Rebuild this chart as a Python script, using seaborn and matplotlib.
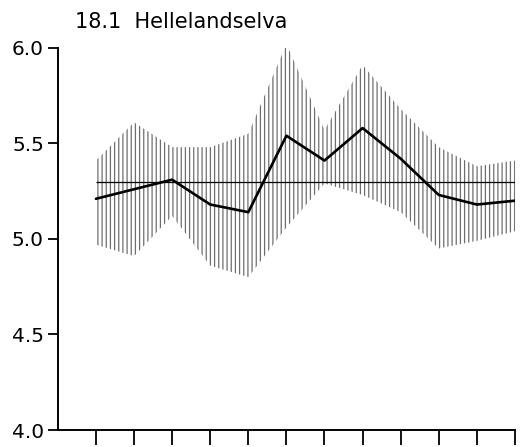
import numpy as np
import pandas as pd
import matplotlib
matplotlib.use("Agg")
import matplotlib.pyplot as plt
import seaborn as sns

# --- Datos ---
months = [1, 2, 3, 4, 5, 6, 7, 8, 9, 10, 11, 12]
values = [5.21, 5.26, 5.31, 5.18, 5.14, 5.54, 5.41, 5.58, 5.42, 5.23, 5.18, 5.20]
upper = [5.41, 5.61, 5.48, 5.48, 5.55, 6.02, 5.57, 5.91, 5.68, 5.48, 5.38, 5.41]
lower = [4.97, 4.91, 5.12, 4.86, 4.80, 5.06, 5.29, 5.23, 5.14, 4.95, 4.99, 5.04]
mean_value = 5.30
title = "18.1  Hellelandselva"
y_ticks = [4.0, 4.5, 5.0, 5.5, 6.0]

df = pd.DataFrame({"month": months, "value": values})

sns.set_style("ticks", {"axes.edgecolor": "black", "text.color": "black",
                        "xtick.color": "black", "ytick.color": "black"})
plt.rcParams["font.family"] = ["DejaVu Sans"]
plt.rcParams["hatch.linewidth"] = 0.9

fig = plt.figure(figsize=(5.26, 4.47), dpi=100)
ax = fig.add_axes([0.110, 0.038, 0.869, 0.855])

# banda rayada (envolvente)
ax.fill_between(months, lower, upper, facecolor="none", edgecolor="#6e6e6e",
                hatch="||||", linewidth=0)

# media
ax.hlines(mean_value, months[0], months[-1], color="black", linewidth=0.9)

# serie
sns.lineplot(data=df, x="month", y="value", ax=ax, color="black", linewidth=1.9)

ax.set_xlim(0, 12)
ax.set_ylim(4.0, 6.0)
ax.set_xticks(months)
ax.set_xticklabels([])
ax.set_yticks(y_ticks)
ax.set_yticklabels([f"{t:.1f}" for t in y_ticks])
ax.set_xlabel("")
ax.set_ylabel("")
sns.despine(ax=ax)
for s in ["left", "bottom"]:
    ax.spines[s].set_linewidth(1.4)
ax.tick_params(axis="x", direction="out", length=11, width=1.3)
ax.tick_params(axis="y", direction="out", length=7, width=1.3, labelsize=14.5,
               pad=3, labelcolor="black")

fig.text(0.143, 0.937, title, fontsize=15, ha="left", va="baseline", color="black")

fig.savefig("out.png", dpi=100)
